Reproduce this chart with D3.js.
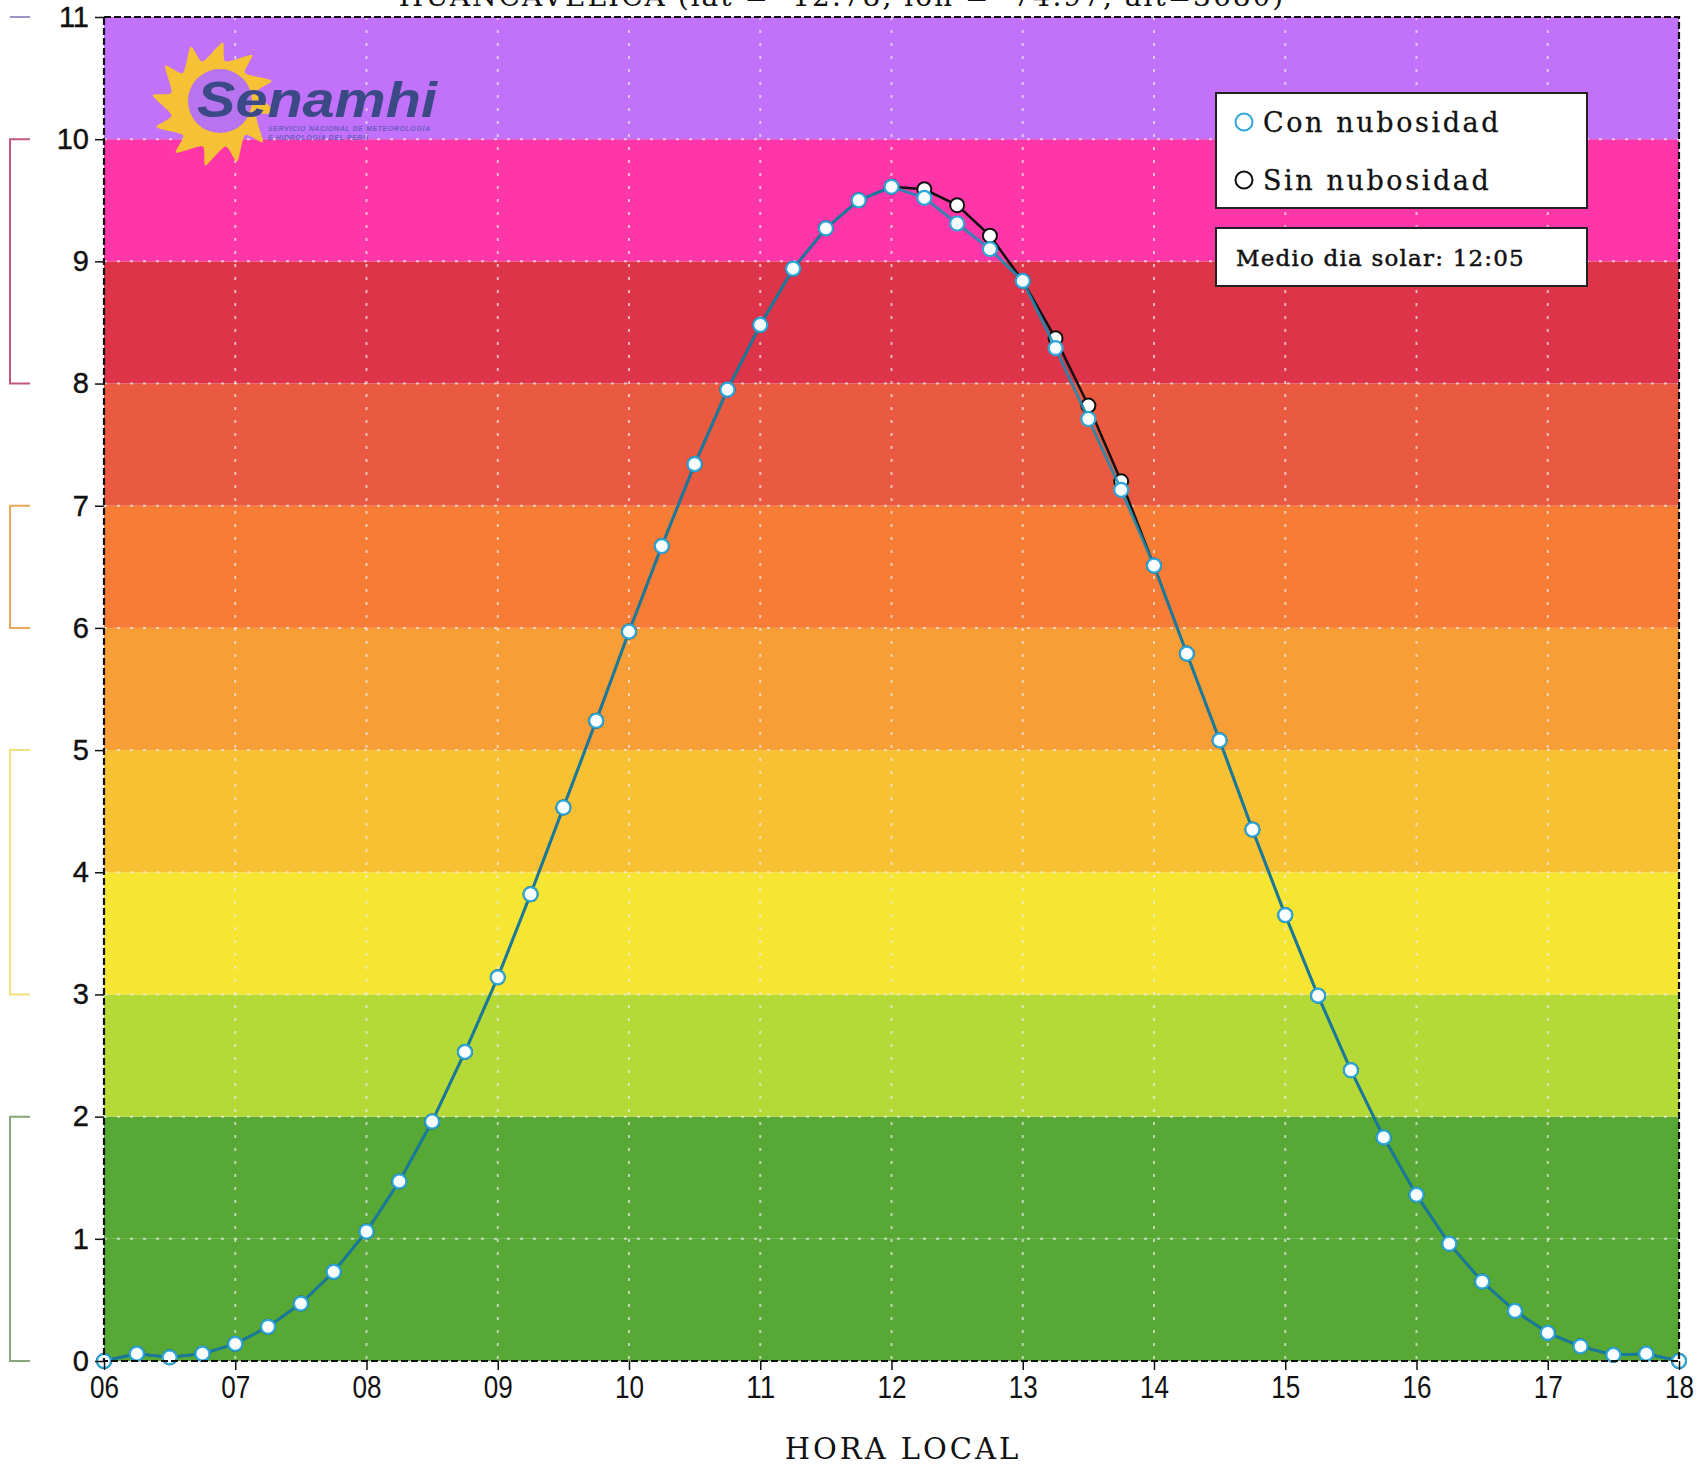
<!DOCTYPE html>
<html><head><meta charset="utf-8">
<script src="https://cdn.jsdelivr.net/npm/d3@7"></script>
<style>html,body{margin:0;padding:0;background:#fff;}svg{display:block;}</style>
</head><body>
<svg id="chart" width="1699" height="1465"></svg>
<script>
// ---- data ----
const hours = [6.00,6.25,6.50,6.75,7.00,7.25,7.50,7.75,8.00,8.25,8.50,8.75,9.00,9.25,9.50,9.75,10.00,10.25,10.50,10.75,11.00,11.25,11.50,11.75,12.00,12.25,12.50,12.75,13.00,13.25,13.50,13.75,14.00,14.25,14.50,14.75,15.00,15.25,15.50,15.75,16.00,16.25,16.50,16.75,17.00,17.25,17.50,17.75,18.00];
const conNubosidad = [0.00,0.06,0.03,0.06,0.14,0.28,0.47,0.73,1.06,1.47,1.96,2.53,3.14,3.82,4.53,5.24,5.97,6.67,7.34,7.95,8.48,8.94,9.27,9.50,9.61,9.52,9.31,9.10,8.84,8.29,7.71,7.13,6.51,5.79,5.08,4.35,3.65,2.99,2.38,1.83,1.36,0.96,0.65,0.41,0.23,0.12,0.05,0.06,0.00];
const sinNubosidad = [0.00,0.06,0.03,0.06,0.14,0.28,0.47,0.73,1.06,1.47,1.96,2.53,3.14,3.82,4.53,5.24,5.97,6.67,7.34,7.95,8.48,8.94,9.27,9.50,9.61,9.59,9.46,9.21,8.84,8.37,7.82,7.20,6.51,5.79,5.08,4.35,3.65,2.99,2.38,1.83,1.36,0.96,0.65,0.41,0.23,0.12,0.05,0.06,0.00];
const xTickValues = [6,7,8,9,10,11,12,13,14,15,16,17,18];
const xTickLabels = ["06","07","08","09","10","11","12","13","14","15","16","17","18"];
const yTickValues = [0,1,2,3,4,5,6,7,8,9,10,11];
const bandLower = [0,1,2,3,4,5,6,7,8,9,10];
const bandColors = ["#58a835","#58a835","#b5d936","#f7e533","#f8c134","#f89e36","#f77c36","#ea5a40","#dd344a","#fe36a8","#c171fa"];
const riskFrom = [11,8,6,3,0];
const riskTo = [11,10,7,5,2];
const riskColors = ["#9c94c4","#c05a78","#e8a85a","#efe27a","#86a57a"];
const titleText = "HUANCAVELICA (lat = -12.78, lon = -74.97, alt=3680)";
const xAxisTitle = "HORA LOCAL";
const legendLabels = ["Con nubosidad","Sin nubosidad"];
const noonText = "Medio dia solar: 12:05";

// ---- layout ----
const svg = d3.select("#chart");
const L = 104, R = 1679, T = 17, B = 1361;
const x = d3.scaleLinear().domain([6,18]).range([L,R]);
const y = d3.scaleLinear().domain([0,11]).range([B,T]);
const serif = "DejaVu Serif, Liberation Serif, serif";

// bands
svg.append("g").selectAll("rect").data(bandLower).join("rect")
  .attr("x", L).attr("width", R-L)
  .attr("y", d => y(d+1)).attr("height", d => y(d)-y(d+1))
  .attr("fill", (d,i) => bandColors[i]);

// grid
const grid = svg.append("g").attr("stroke","#ececec").attr("stroke-opacity",0.7)
  .attr("stroke-width",2).attr("stroke-dasharray","3,10");
grid.selectAll("line.v").data(xTickValues.slice(1,-1)).join("line")
  .attr("x1", d => x(d)).attr("x2", d => x(d)).attr("y1", T).attr("y2", B);
grid.selectAll("line.h").data(yTickValues.slice(1,-1)).join("line")
  .attr("y1", d => y(d)).attr("y2", d => y(d)).attr("x1", L).attr("x2", R);

// logo
const logo = svg.append("g");
const cx = 214, cy = 104;
const pts = [];
const nR = 12;
for (let i = 0; i < nR*2; i++) {
  const a = i * Math.PI / nR - Math.PI/2;
  const r = i % 2 === 0 ? 62 : 44;
  const tw = i%2===0 ? 0.14 : 0;
  pts.push([cx + r*Math.cos(a + tw), cy + r*Math.sin(a + tw)]);
}
logo.append("path").attr("d", d3.line().curve(d3.curveCardinalClosed.tension(0.3))(pts)).attr("fill","#f4c234");
logo.append("circle").attr("cx", cx+6).attr("cy", cy-3).attr("r", 32).attr("fill","#b873ee");
logo.append("text").attr("x",197).attr("y",117).attr("font-family","Liberation Sans, Arial, sans-serif")
  .attr("font-weight","bold").attr("font-style","italic").attr("font-size",50)
  .attr("textLength",240).attr("lengthAdjust","spacingAndGlyphs").attr("fill","#3b4a86").text("Senamhi");
logo.append("text").attr("x",268).attr("y",131).attr("font-family","Liberation Sans, Arial, sans-serif")
  .attr("font-size",7).attr("font-weight","bold").attr("font-style","italic").attr("fill","#6b5cc0")
  .attr("textLength",162).text("SERVICIO NACIONAL DE METEOROLOGÍA");
logo.append("text").attr("x",268).attr("y",140).attr("font-family","Liberation Sans, Arial, sans-serif")
  .attr("font-size",7).attr("font-weight","bold").attr("font-style","italic").attr("fill","#6b5cc0")
  .attr("textLength",100).text("E HIDROLOGÍA DEL PERÚ");

// lines
const line = d3.line().x((d,i) => x(hours[i])).y(d => y(d));
svg.append("path").datum(sinNubosidad).attr("d", line).attr("fill","none")
  .attr("stroke","#111").attr("stroke-width",2.5);
svg.append("g").selectAll("circle").data(sinNubosidad).join("circle")
  .attr("cx",(d,i)=>x(hours[i])).attr("cy",d=>y(d)).attr("r",7)
  .attr("fill","#fff").attr("stroke","#111").attr("stroke-width",2);
svg.append("path").datum(conNubosidad).attr("d", line).attr("fill","none")
  .attr("stroke","#1a8cb4").attr("stroke-opacity",0.85).attr("stroke-width",3);
svg.append("g").selectAll("circle").data(conNubosidad).join("circle")
  .attr("cx",(d,i)=>x(hours[i])).attr("cy",d=>y(d)).attr("r",7)
  .attr("fill","#fbfeff").attr("stroke","#2ea6d8").attr("stroke-width",2.2);

// border
svg.append("rect").attr("x",L).attr("y",T).attr("width",R-L).attr("height",B-T)
  .attr("fill","none").attr("stroke","#111").attr("stroke-width",2.2).attr("stroke-dasharray","7,3");

// axes
const xAxis = svg.append("g").attr("transform",`translate(0,${B})`)
  .call(d3.axisBottom(x).tickValues(xTickValues).tickFormat((d,i)=>xTickLabels[i]).tickSize(9).tickPadding(5));
xAxis.select(".domain").remove();
xAxis.selectAll("line").attr("stroke","#111").attr("stroke-width",1.5);
xAxis.selectAll("text").attr("font-family","Liberation Sans, Arial, sans-serif")
  .attr("font-size",31).attr("fill","#111").attr("dy","0.74em")
  .attr("textLength",29).attr("lengthAdjust","spacingAndGlyphs");

const yAxis = svg.append("g").attr("transform",`translate(${L},0)`)
  .call(d3.axisLeft(y).tickValues(yTickValues).tickFormat(d3.format("d")).tickSize(9).tickPadding(6));
yAxis.select(".domain").remove();
yAxis.selectAll("line").attr("stroke","#111").attr("stroke-width",1.5);
yAxis.selectAll("text").attr("font-family","Liberation Sans, Arial, sans-serif")
  .attr("font-size",29).attr("fill","#111").attr("stroke","#111").attr("stroke-width",0.4);

// risk brackets
const br = svg.append("g").attr("fill","none").attr("stroke-width",2);
riskFrom.forEach((f,i) => {
  const t = riskTo[i];
  if (f === t) {
    br.append("line").attr("x1",10).attr("x2",30).attr("y1",y(f)).attr("y2",y(f)).attr("stroke",riskColors[i]);
  } else {
    br.append("path").attr("d",`M30,${y(t)}H10V${y(f)}H30`).attr("stroke",riskColors[i]);
  }
});

// title (clipped by top edge, as in the original)
svg.append("text").attr("x",842).attr("y",6).attr("text-anchor","middle")
  .attr("font-family",serif).attr("font-size",28)
  .attr("letter-spacing",2).attr("fill","#111").text(titleText);

// x axis title
svg.append("text").attr("x",903).attr("y",1459).attr("text-anchor","middle")
  .attr("font-family",serif).attr("font-size",29)
  .attr("letter-spacing",3).attr("fill","#111").text(xAxisTitle);

// legend
const lg = svg.append("g");
lg.append("rect").attr("x",1216).attr("y",93).attr("width",371).attr("height",115)
  .attr("fill","#fff").attr("stroke","#222").attr("stroke-width",2);
const legColors = ["#2ea6d8","#111"];
legendLabels.forEach((lab,i) => {
  const yy = 122 + i*58;
  lg.append("circle").attr("cx",1244).attr("cy",yy).attr("r",8.5).attr("fill","#fff")
    .attr("stroke",legColors[i]).attr("stroke-width",2);
  lg.append("text").attr("x",1263).attr("y",yy+10).attr("font-family",serif)
    .attr("font-size",27).attr("letter-spacing",2.6).attr("fill","#111")
    .attr("stroke","#111").attr("stroke-width",0.3).text(lab);
});
lg.append("rect").attr("x",1216).attr("y",228).attr("width",371).attr("height",58)
  .attr("fill","#fff").attr("stroke","#222").attr("stroke-width",2);
lg.append("text").attr("x",1236).attr("y",266).attr("font-family",serif)
  .attr("font-size",23).attr("letter-spacing",1.2).attr("fill","#111")
  .attr("stroke","#111").attr("stroke-width",0.5).text(noonText);
</script>
</body></html>
